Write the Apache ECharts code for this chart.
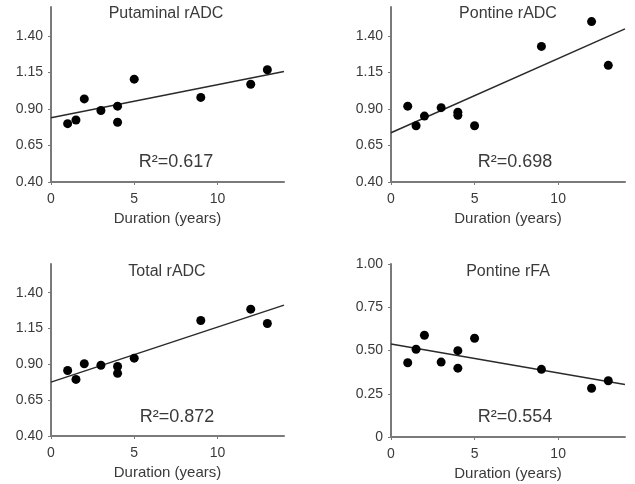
<!DOCTYPE html>
<html>
<head>
<meta charset="utf-8">
<script src="https://cdn.jsdelivr.net/npm/echarts@6/dist/echarts.min.js"></script>
<style>
  html, body { margin: 0; padding: 0; background: #fff; }
  #main { width: 635px; height: 484px; }
</style>
</head>
<body>
<div id="main"></div>
<script>
// duration in years, shared by all four panels
const duration = [1, 1.5, 2, 3, 4, 4, 5, 9, 12, 13];

const putaminalADC = [0.80, 0.825, 0.97, 0.89, 0.92, 0.81, 1.105, 0.98, 1.07, 1.17];
const pontineADC = [0.92, 0.786, 0.852, 0.91, 0.879, 0.857, 0.786, 1.33, 1.50, 1.20];
const totalADC = [0.857, 0.795, 0.904, 0.894, 0.885, 0.837, 0.943, 1.206, 1.285, 1.185];
const pontineFA = [0.429, 0.507, 0.588, 0.433, 0.499, 0.398, 0.571, 0.391, 0.282, 0.325];

// fitted lines: value at x=0 and at x=14
const fitEnds = [[0.84, 1.158], [0.738, 1.45], [0.776, 1.313], [0.538, 0.304]];

const titles = ['Putaminal rADC', 'Pontine rADC', 'Total rADC', 'Pontine rFA'];
const r2Labels = ['R²=0.617', 'R²=0.698', 'R²=0.872', 'R²=0.554'];
const adcTicks = [0.40, 0.65, 0.90, 1.15, 1.40];
const faTicks = [0, 0.25, 0.50, 0.75, 1.00];
const xTicks = [0, 5, 10];

const font = 'Arial, "Liberation Sans", sans-serif';
const textColor = '#3a3a3a';
const axisColor = '#7a7a7a';

const grids = [
  { left: 51, top: 7, width: 233, height: 175 },
  { left: 391, top: 7, width: 234, height: 175 },
  { left: 51, top: 264, width: 233, height: 172 },
  { left: 391, top: 264, width: 234, height: 173 },
];

const titlePos = [[166, 14], [508, 14], [167, 272], [508, 272]];
const r2Pos = [[176, 162], [515, 162], [177, 417], [515, 417]];

const panels = [putaminalADC, pontineADC, totalADC, pontineFA];

const xAxes = grids.map((g, i) => ({
  type: 'value',
  gridIndex: i,
  min: 0,
  max: 14,
  interval: 5,
  name: 'Duration (years)',
  nameLocation: 'middle',
  nameGap: 29,
  nameTextStyle: { fontFamily: font, fontSize: 15, color: textColor },
  splitLine: { show: false },
  axisLine: { lineStyle: { color: axisColor, width: 2 } },
  axisTick: { length: 3, lineStyle: { color: axisColor }, customValues: xTicks },
  axisLabel: { fontFamily: font, fontSize: 14, color: textColor, margin: 10, customValues: xTicks },
}));

const yAxes = grids.map((g, i) => {
  const fa = i === 3;
  const ticks = fa ? faTicks : adcTicks;
  return {
    type: 'value',
    gridIndex: i,
    min: fa ? 0 : 0.4,
    max: fa ? 1 : 1.6,
    interval: 0.25,
    splitLine: { show: false },
    axisLine: { show: true, lineStyle: { color: axisColor, width: 2 } },
    axisTick: { show: true, length: 3, lineStyle: { color: axisColor }, customValues: ticks },
    axisLabel: {
      fontFamily: font, fontSize: 14, color: textColor, margin: 8,
      customValues: ticks,
      formatter: v => (fa && v === 0) ? '0' : v.toFixed(2),
    },
  };
});

const series = [];
panels.forEach((vals, i) => {
  series.push({
    type: 'scatter',
    xAxisIndex: i,
    yAxisIndex: i,
    symbolSize: 9,
    itemStyle: { color: '#000', opacity: 1 },
    data: duration.map((d, k) => [d, vals[k]]),
    z: 3,
  });
  series.push({
    type: 'line',
    xAxisIndex: i,
    yAxisIndex: i,
    symbol: 'none',
    lineStyle: { color: '#2a2a2a', width: 1.5 },
    data: [[0, fitEnds[i][0]], [14, fitEnds[i][1]]],
    z: 2,
  });
});

const graphic = [];
titles.forEach((t, i) => {
  graphic.push({
    type: 'text', x: titlePos[i][0], y: titlePos[i][1],
    style: { text: t, fontFamily: font, fontSize: 16, fill: textColor, textAlign: 'center', textVerticalAlign: 'middle' },
  });
  graphic.push({
    type: 'text', x: r2Pos[i][0], y: r2Pos[i][1],
    style: { text: r2Labels[i], fontFamily: font, fontSize: 18, fill: textColor, textAlign: 'center', textVerticalAlign: 'middle' },
  });
});

const myChart = echarts.init(document.getElementById('main'));
const option = {
  animation: false,
  backgroundColor: '#fff',
  grid: grids.map(g => Object.assign({ outerBoundsMode: 'none' }, g)),
  xAxis: xAxes,
  yAxis: yAxes,
  series,
  graphic,
};
myChart.setOption(option);
</script>
</body>
</html>
